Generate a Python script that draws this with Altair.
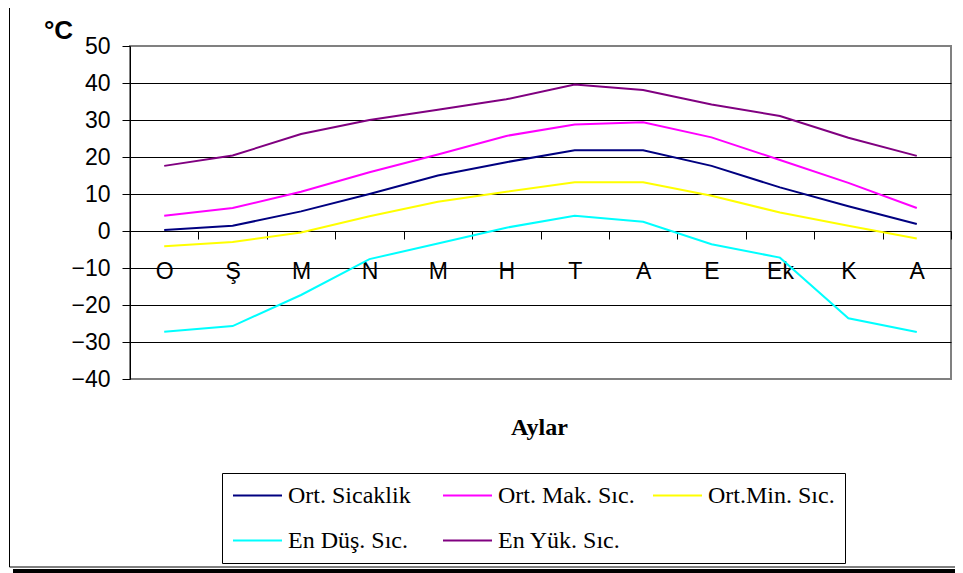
import json
import altair as alt
import pandas as pd

# ---------------- data ----------------
months = ["O", "Ş", "M", "N", "M", "H", "T", "A", "E", "Ek", "K", "A"]
series_names = ["Ort. Sicaklik", "Ort. Mak. Sıc.", "Ort.Min. Sıc.", "En Düş. Sıc.", "En Yük. Sıc."]
series_colors = ["#000080", "#FF00FF", "#FFFF00", "#00FFFF", "#800080"]

ort_sicaklik = [0.3, 1.4, 5.3, 10.0, 15.0, 18.6, 21.8, 21.8, 17.6, 11.8, 6.7, 1.9]
ort_mak = [4.1, 6.2, 10.6, 15.9, 20.7, 25.7, 28.8, 29.4, 25.3, 19.2, 13.0, 6.2]
ort_min = [-4.1, -3.0, -0.4, 4.0, 7.9, 10.6, 13.2, 13.2, 9.5, 5.0, 1.4, -2.0]
en_dus = [-27.2, -25.7, -17.3, -7.6, -3.4, 0.9, 4.1, 2.5, -3.6, -7.2, -23.6, -27.3]
en_yuk = [17.6, 20.4, 26.2, 30.0, 32.8, 35.6, 39.6, 38.1, 34.2, 31.1, 25.2, 20.3]

y_ticks = [-40, -30, -20, -10, 0, 10, 20, 30, 40, 50]

all_series = [ort_sicaklik, ort_mak, ort_min, en_dus, en_yuk]
rows = []
for name, vals in zip(series_names, all_series):
    for i, v in enumerate(vals):
        rows.append({"idx": i, "series": name, "value": v})
df = pd.DataFrame(rows)

W, H = 821, 333
label_expr = json.dumps(months, ensure_ascii=False) + "[datum.value]"

lines = alt.Chart(df).mark_line(strokeWidth=2).encode(
    x=alt.X(
        "idx:O",
        scale=alt.Scale(paddingInner=0, paddingOuter=0),
        axis=alt.Axis(
            title="Aylar",
            offset=-148,
            tickBand="extent",
            tickSize=8,
            tickColor="black",
            domainColor="black",
            labelExpr=label_expr,
            labelAngle=0,
            labelFont="Liberation Sans",
            labelFontSize=23,
            labelColor="black",
            labelPadding=21,
            labelOverlap=False,
            grid=False,
            titleFont="Liberation Serif",
            titleFontSize=24,
            titleFontWeight="bold",
            titleColor="black",
            titleX=409,
            titleY=203,
            titleAlign="center",
            titleBaseline="alphabetic",
        ),
    ),
    y=alt.Y(
        "value:Q",
        scale=alt.Scale(domain=[-40, 50], nice=False, zero=False),
        axis=alt.Axis(
            values=y_ticks,
            title="°C",
            titleAngle=0,
            titleX=-72,
            titleY=-8,
            titleAlign="center",
            titleBaseline="alphabetic",
            titleFont="Liberation Sans",
            titleFontSize=26,
            titleFontWeight="bold",
            titleColor="black",
            labelFont="Liberation Sans",
            labelFontSize=23,
            labelColor="black",
            labelPadding=12,
            tickSize=8,
            tickColor="black",
            domainColor="black",
            grid=True,
            gridColor={"condition": {"test": "datum.value == 50 || datum.value == -40", "value": "#808080"}, "value": "black"},
            gridOpacity=1,
        ),
    ),
    color=alt.Color(
        "series:N",
        sort=series_names,
        scale=alt.Scale(domain=series_names, range=series_colors),
        legend=alt.Legend(
            title=None,
            orient="none",
            legendX=92,
            legendY=427,
            direction="horizontal",
            columns=3,
            gridAlign="all",
            symbolType="stroke",
            symbolSize=2401,
            symbolStrokeWidth=2,
            labelFont="Liberation Serif",
            labelFontSize=24,
            labelColor="black",
            labelOffset=5,
            labelLimit=220,
            columnPadding=17,
            rowPadding=20,
            clipHeight=25,
            padding=10,
            strokeColor="black",
            fillColor="white",
        ),
    ),
)

one = pd.DataFrame({"k": [0]})
frame = alt.Chart(one).mark_rect(filled=False, stroke="black", strokeWidth=1).encode(
    x=alt.value(-120.5), x2=alt.value(860), y=alt.value(-41.5), y2=alt.value(521)
)
shadow = alt.Chart(one).mark_rect(color="black").encode(
    x=alt.value(-117), x2=alt.value(860), y=alt.value(523), y2=alt.value(527)
)

chart = alt.layer(frame, shadow, lines).properties(
    width=W,
    height=H,
    autosize=alt.AutoSizeParams(type="none"),
    padding={"left": 122, "top": 38, "right": 4, "bottom": 194},
    background="white",
).configure_view(stroke="#808080", strokeWidth=2)

chart.save("out.html", embed_options={"renderer": "svg", "actions": False})
